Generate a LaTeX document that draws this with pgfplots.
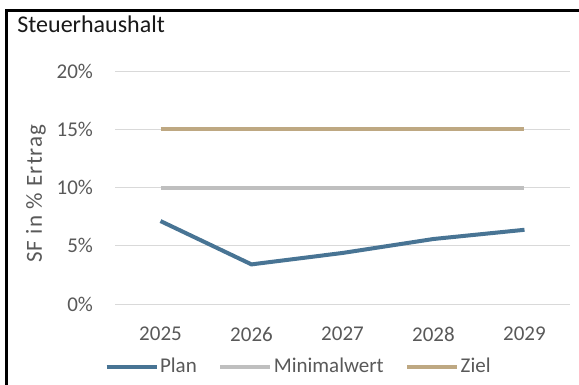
\documentclass[border=0pt]{standalone}
\usepackage{pgfplots}
\pgfplotsset{compat=1.18}
\usepackage{fontspec}
\setmainfont{Carlito}
\definecolor{planc}{RGB}{72,116,148}
\definecolor{minc}{RGB}{191,191,191}
\definecolor{zielc}{RGB}{190,168,130}
\definecolor{txt}{RGB}{89,89,89}
\definecolor{gridc}{RGB}{217,217,217}
\begin{document}
\begin{tikzpicture}
\useasboundingbox (0,0) rectangle (289.5pt,-192.5pt);
\fill[white] (0,0) rectangle (289.5pt,-192.5pt);
\draw[black, line width=1.5pt] (3.25pt,-200pt) -- (3.25pt,-5.25pt) -- (300pt,-5.25pt);
\node[anchor=base west, inner sep=0pt, font=\fontsize{12}{14}\selectfont, text=black!90] at (8.5pt,-16.3pt) {Steuerhaushalt};
\node[rotate=90, inner sep=0pt, font=\fontsize{11.5}{13}\selectfont\addfontfeature{LetterSpace=5}, text=txt] at (18pt,-96.75pt) {SF in \% Ertrag};
\begin{axis}[
  scale only axis,
  width=227.5pt, height=116.5pt,
  at={(57.5pt,-152pt)}, anchor=south west,
  xmin=-0.5, xmax=4.5, ymin=0, ymax=20,
  xtick={0,1,2,3,4},
  xticklabels={2025,2026,2027,2028,2029},
  ytick={0,5,10,15,20},
  yticklabels={0\%,5\%,10\%,15\%,20\%},
  ymajorgrids, grid style={gridc, line width=0.5pt},
  axis line style={draw=none},
  major tick length=0pt,
  tick label style={font=\fontsize{10.5}{12}\selectfont, text=txt},
  /pgf/number format/assume math mode=true,
  xticklabel style={yshift=-8pt},
  yticklabel style={xshift=-7.5pt},
  legend columns=3,
  legend style={draw=none, fill=none, at={(-0.037,-0.2704)}, anchor=west,
    font=\fontsize{10.5}{12}\selectfont, text=txt,
    /tikz/every even column/.append style={column sep=10pt},
    nodes={inner sep=0.75pt}},
  legend image code/.code={\draw[#1, line width=2pt] (0pt,0pt) -- (25pt,0pt);},
]
\addplot[planc, line width=2pt] coordinates {(0,7.12) (1,3.4) (2,4.38) (3,5.58) (4,6.37)};
\addlegendentry{Plan}
\addplot[minc, line width=2pt] coordinates {(0,10) (1,10) (2,10) (3,10) (4,10)};
\addlegendentry{Minimalwert}
\addplot[zielc, line width=2pt] coordinates {(0,15) (1,15) (2,15) (3,15) (4,15)};
\addlegendentry{Ziel}
\end{axis}
\end{tikzpicture}
\end{document}
